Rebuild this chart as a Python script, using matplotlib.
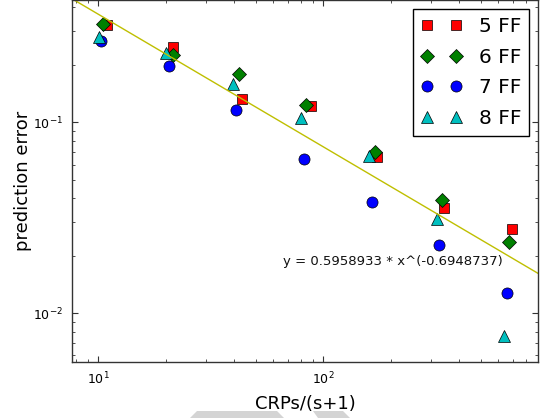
import numpy as np
import matplotlib
matplotlib.use("Agg")
import matplotlib.pyplot as plt
from matplotlib.patches import Polygon

# values (CRPs/(s+1) vs prediction error)
x_5ff = [10.9, 21.5, 43.4, 87.9, 173.8, 345.0, 688.0]
y_5ff = [0.323, 0.249, 0.133, 0.121, 0.0656, 0.0355, 0.0275]

x_6ff = [10.5, 21.4, 42.2, 83.8, 169.8, 336.0, 669.0]
y_6ff = [0.326, 0.225, 0.179, 0.123, 0.0697, 0.0392, 0.0237]

x_7ff = [10.25, 20.55, 41.05, 82.1, 164.1, 326.8, 653.4]
y_7ff = [0.267, 0.196, 0.116, 0.064, 0.0384, 0.0226, 0.0128]

x_8ff = [10.07, 20.0, 39.8, 79.4, 160.1, 319.0, 637.5]
y_8ff = [0.280, 0.230, 0.159, 0.105, 0.0669, 0.0311, 0.00754]

labels = ["5 FF", "6 FF", "7 FF", "8 FF"]

FIT_A = 0.5958933
FIT_B = -0.6948737
FIT_XSCALE = 5.0  # the drawn line sits at FIT_A*(x/5)^FIT_B
fit_text = "y = 0.5958933 * x^(-0.6948737)"

fig = plt.figure(figsize=(5.44, 4.18), dpi=100)
ax = fig.add_axes([0.1318, 0.134, 0.8577, 0.866])

ax.plot(x_5ff, y_5ff, "s", color="r", label=labels[0], markersize=7.5, linestyle="none",
        markeredgecolor="k", markeredgewidth=0.5)
ax.plot(x_6ff, y_6ff, "D", color="g", label=labels[1], markersize=7.2, linestyle="none",
        markeredgecolor="k", markeredgewidth=0.5)
ax.plot(x_7ff, y_7ff, "o", color="b", label=labels[2], markersize=8, linestyle="none",
        markeredgecolor="k", markeredgewidth=0.5)
ax.plot(x_8ff, y_8ff, "^", color="c", label=labels[3], markersize=8, linestyle="none",
        markeredgecolor="k", markeredgewidth=0.5)

xs = np.logspace(np.log10(7.0), np.log10(1000.0), 100)
ax.plot(xs, FIT_A * (xs / FIT_XSCALE) ** FIT_B, color="#bfbf00", linewidth=1.0)

ax.set_xscale("log")
ax.set_yscale("log")
ax.set_xlim(7.62, 902.6)
ax.set_ylim(0.00554, 0.437)

ax.text(66.2, 0.01856, fit_text, fontsize=9.5, ha="left", va="center", color="#111111")

ax.tick_params(which="both", direction="in", top=True, right=True, labelsize=9,
               pad=6, colors="#333333", labelcolor="k")
ax.tick_params(which="major", length=4, width=0.8)
ax.tick_params(which="minor", length=2, width=0.6)
for sp in ax.spines.values():
    sp.set_color("#333333")
    sp.set_linewidth(1.0)

ax.set_xlabel("CRPs/(s+1)", fontsize=13, labelpad=6)
ax.set_ylabel("prediction error", fontsize=13, labelpad=1)

leg = ax.legend(loc="upper right", numpoints=2, fontsize=14.5, fancybox=False,
                framealpha=1, edgecolor="k", borderaxespad=0.45, handletextpad=0.85,
                labelspacing=0.58, borderpad=0.4)
leg.get_frame().set_linewidth(1.0)

# light gray shapes peeking in at the bottom edge
for pts in ([(197, 411), (277, 411), (284, 418), (190, 418)],
            [(313, 411), (343, 411), (350, 418), (318, 418)]):
    fpts = [(px / 544, 1 - py / 418) for px, py in pts]
    fig.patches.append(Polygon(fpts, closed=True, transform=fig.transFigure,
                               facecolor="#d4d4d4", edgecolor="none"))

fig.savefig("out.png", dpi=100)
